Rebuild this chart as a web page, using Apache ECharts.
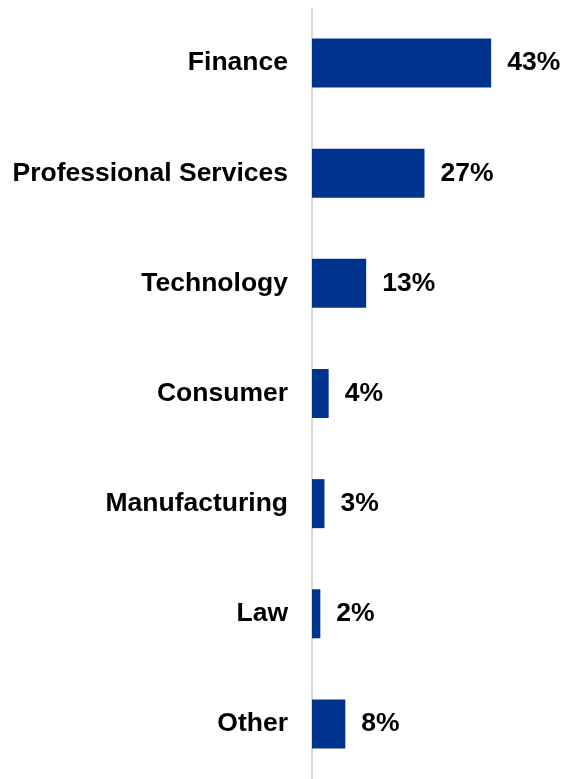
<!DOCTYPE html>
<html>
<head>
<meta charset="utf-8">
<script src="https://cdn.jsdelivr.net/npm/echarts@6/dist/echarts.min.js"></script>
<style>
  html, body { margin: 0; padding: 0; background: #ffffff; }
  #chart { width: 564px; height: 779px; }
</style>
</head>
<body>
<div id="chart"></div>
<script>
// Sector breakdown, share of respondents (%)
const sectors = ['Finance', 'Professional Services', 'Technology', 'Consumer', 'Manufacturing', 'Law', 'Other'];
const shares = [43, 27, 13, 4, 3, 2, 8];

const chart = echarts.init(document.getElementById('chart'), null, { renderer: 'canvas' });

const labelFont = {
  fontFamily: 'Liberation Sans, Arial, sans-serif',
  fontWeight: 'bold',
  fontSize: 26.5,
  color: '#000000',
  padding: [2, 0, 0, 0]
};

chart.setOption({
  animation: false,
  grid: { left: 312, top: 8, width: 250, height: 773, containLabel: false },
  xAxis: {
    type: 'value',
    min: 0,
    max: 60,
    show: false
  },
  yAxis: {
    type: 'category',
    data: sectors,
    inverse: true,
    axisLine: { show: true, lineStyle: { color: '#d9d9d9', width: 2 } },
    axisTick: { show: false },
    axisLabel: Object.assign({ margin: 24 }, labelFont)
  },
  series: [{
    type: 'bar',
    data: shares,
    barWidth: 49,
    itemStyle: { color: '#00338d' },
    label: Object.assign({
      show: true,
      position: 'right',
      distance: 16,
      formatter: p => p.value + '%'
    }, labelFont)
  }]
});
</script>
</body>
</html>
